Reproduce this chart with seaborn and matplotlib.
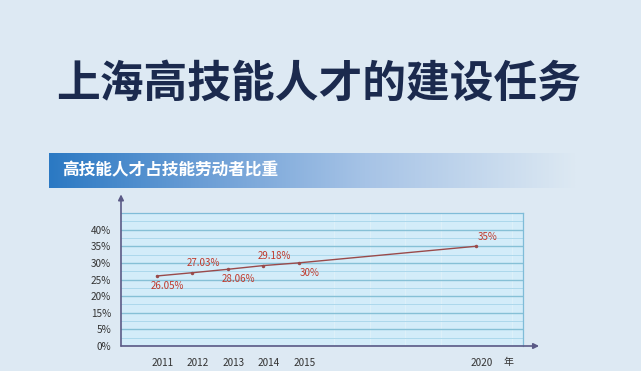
import matplotlib
matplotlib.use("Agg")
import matplotlib.pyplot as plt
import matplotlib.transforms as mtransforms
from matplotlib.colors import LinearSegmentedColormap
from matplotlib.ticker import MultipleLocator
import numpy as np
import pandas as pd
import seaborn as sns

# data
years = [2011, 2012, 2013, 2014, 2015, 2020]
share = [26.05, 27.03, 28.06, 29.18, 30.0, 35.0]
point_labels = ["26.05%", "27.03%", "28.06%", "29.18%", "30%", "35%"]
label_side = ["below", "above", "below", "above", "below", "above"]
ytick_vals = [5, 10, 15, 20, 25, 30, 35, 40]
ytick_labels = ["0%", "5%", "15%", "20%", "25%", "30%", "35%", "40%"]
xtick_labels = ["2011", "2012", "2013", "2014", "2015", "2020"]

title = "上海高技能人才的建设任务"
subtitle = "高技能人才占技能劳动者比重"

df = pd.DataFrame({"year": years, "share": share})

sns.set_theme(style="white")
plt.rcParams["font.family"] = ["Noto Sans CJK SC", "DejaVu Sans"]

bg = "#dde9f3"
fig = plt.figure(figsize=(6.41, 3.71), dpi=100, facecolor=bg)

# big title
fig.text(0.497, 0.774, title, ha="center", va="center", fontsize=31.5,
         fontweight="bold", color="#1b2a4e")

# gradient banner
bax = fig.add_axes([49 / 641, (371 - 188) / 371, 527 / 641, 35 / 371])
bax.set_axis_off()
cmap = LinearSegmentedColormap.from_list(
    "banner", [(0.0, "#2b79c3"), (0.3, "#6d9fd6"), (0.6, "#a6c3e6"),
               (0.95, "#d6e4f1"), (1.0, bg)])
grad = np.linspace(0, 1, 256).reshape(1, -1)
bax.imshow(grad, aspect="auto", cmap=cmap, extent=(0, 1, 0, 1))
bax.set_xlim(0, 1)
bax.set_ylim(0, 1)
bax.text(13 / 527, 0.5, subtitle, ha="left", va="center", fontsize=12,
         color="white", fontweight="bold")

# chart
ax = fig.add_axes([121 / 641, (371 - 346) / 371, 402 / 641, 133 / 371])
ax.set_facecolor("#d3ecf9")
sns.lineplot(data=df, x="year", y="share", ax=ax, color="#9a4a4a", lw=1.0,
             marker="o", markersize=2.5, markeredgewidth=0)

ax.set_xlim(2010, 2021.32)
ax.set_ylim(5, 45)
ax.set_yticks(ytick_vals)
ax.set_yticklabels(ytick_labels)
ax.set_xticks(years)
ax.set_xticklabels(xtick_labels)
ax.yaxis.set_minor_locator(MultipleLocator(2.5))
ax.xaxis.set_minor_locator(MultipleLocator(1))
ax.grid(which="major", axis="y", color="#86c0d6", lw=1.0)
ax.grid(which="minor", axis="y", color="#acd8ec", lw=0.7)
ax.grid(which="minor", axis="x", color="#e0f1fa", lw=0.6)
ax.set_axisbelow(True)
ax.tick_params(axis="both", which="both", length=0, labelsize=7.2,
               labelcolor="#333333")
ax.tick_params(axis="y", pad=7)
ax.tick_params(axis="x", pad=9)
ax.set_xlabel("")
ax.set_ylabel("")

offset = mtransforms.ScaledTranslation(6 / 100, 0, fig.dpi_scale_trans)
for lab in ax.get_xticklabels():
    lab.set_transform(lab.get_transform() + offset)

for s in ["top", "right"]:
    ax.spines[s].set_color("#7fbcd8")
    ax.spines[s].set_linewidth(0.9)
for s in ["left", "bottom"]:
    ax.spines[s].set_visible(False)

axis_col = "#5b5a86"
ax.annotate("", xy=(0, 1.14), xytext=(0, 0), xycoords="axes fraction",
            arrowprops=dict(arrowstyle="-|>", color=axis_col, lw=1.2,
                            mutation_scale=8, shrinkA=0, shrinkB=0),
            annotation_clip=False)
ax.annotate("", xy=(1.04, 0), xytext=(0, 0), xycoords="axes fraction",
            arrowprops=dict(arrowstyle="-|>", color=axis_col, lw=1.2,
                            mutation_scale=8, shrinkA=0, shrinkB=0),
            annotation_clip=False)

ax.text(1.0, -0.12, "年", transform=ax.transAxes + mtransforms.ScaledTranslation(-14 / 100, 0, fig.dpi_scale_trans),
        ha="center", va="center", fontsize=7.2, color="#333333")

for x, y, t, side in zip(years, share, point_labels, label_side):
    dy = -7 if side == "below" else 7
    ax.annotate(t, (x, y), xytext=(8, dy), textcoords="offset points",
                ha="center", va="center", fontsize=7, color="#c0392b")

fig.savefig("out.png", dpi=100, facecolor=bg)
